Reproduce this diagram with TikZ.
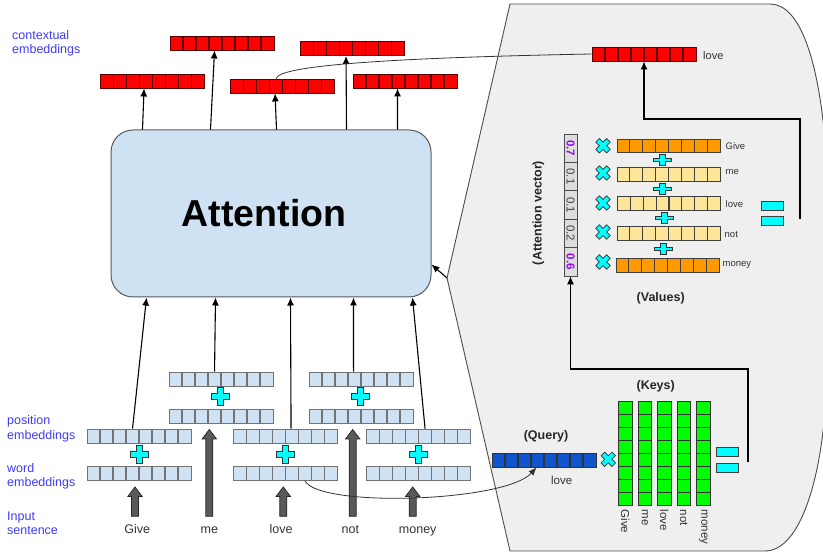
\documentclass[tikz,border=0pt]{standalone}
\usepackage{fontspec}
\setmainfont{Liberation Sans}
\usetikzlibrary{arrows.meta,calc}
\definecolor{embblue}{HTML}{CFE2F3}
\definecolor{labelblue}{HTML}{3C3CF5}
\definecolor{ctxred}{HTML}{FF0000}
\definecolor{qblue}{HTML}{1155CC}
\definecolor{kgreen}{HTML}{00FF00}
\definecolor{vdark}{HTML}{FF9900}
\definecolor{vlight}{HTML}{FFE599}
\definecolor{panelgray}{HTML}{EFEFEF}
\definecolor{avgray}{HTML}{DDDDDD}
\definecolor{avpurple}{HTML}{9900FF}
\definecolor{arrgray}{HTML}{595959}
\definecolor{markcyan}{HTML}{00FFFF}
\definecolor{wordgray}{HTML}{333333}
\definecolor{redline}{HTML}{5A0000}
\tikzset{
  hvec/.style 2 args={rectangle, inner sep=0pt, minimum width=104pt, minimum height=14pt,
    fill=#1, draw=#2, line width=0.9pt,
    path picture={\foreach \k in {1,...,7}{\draw[#2, line width=1.1pt]
      ($(path picture bounding box.south west)!\k/8!(path picture bounding box.south east)$) --
      ($(path picture bounding box.north west)!\k/8!(path picture bounding box.north east)$);}}},
  kcol/.style={rectangle, inner sep=0pt, minimum width=13.5pt, minimum height=103.5pt,
    fill=kgreen, draw=black!80, line width=0.9pt,
    path picture={\foreach \k in {1,...,7}{\draw[black!80, line width=1pt]
      ($(path picture bounding box.south west)!\k/8!(path picture bounding box.north west)$) --
      ($(path picture bounding box.south east)!\k/8!(path picture bounding box.north east)$);}}},
  avcell/.style={rectangle, inner sep=0pt, minimum width=13pt, minimum height=28.4pt,
    fill=avgray, draw=black!70, line width=0.8pt, font=\fontsize{11.5}{13}\selectfont, text=black!75},
  attbox/.style={rectangle, rounded corners=22pt, minimum width=320pt, minimum height=167pt,
    fill=embblue, draw=black!65, line width=1pt},
  bluelabel/.style={anchor=north west, inner sep=0pt, align=left, text=labelblue,
    font=\fontsize{12.5}{14.5}\selectfont},
  inword/.style={anchor=base, inner sep=0pt, text height=9pt, text=wordgray,
    font=\fontsize{12.5}{14}\selectfont},
  boldlab/.style={inner sep=0pt, font=\bfseries\fontsize{12.5}{14}\selectfont, text=black!85},
  smalllab/.style={anchor=west, inner sep=0pt, text=wordgray, font=\fontsize{9.5}{11}\selectfont},
  keylab/.style={rotate=-90, anchor=west, inner sep=0pt, text=wordgray, font=\fontsize{11.5}{13}\selectfont},
  eqbar/.style={rectangle, inner sep=0pt, minimum width=21.5pt, minimum height=8.5pt,
    fill=markcyan, draw=black!75, line width=0.7pt},
  arr/.style={-{Latex[length=8pt,width=7pt]}, line width=1.1pt, draw=black},
  thinline/.style={line width=0.8pt, draw=black!80},
  blockstyle/.style={fill=arrgray, draw=black!85, line width=0.7pt},
  plusmark/.pic={\filldraw[fill=markcyan, draw=black!80, line width=0.7pt]
    (-9,-3) -- (-3,-3) -- (-3,-9) -- (3,-9) -- (3,-3) -- (9,-3) -- (9,3) -- (3,3) -- (3,9)
    -- (-3,9) -- (-3,3) -- (-9,3) -- cycle;}
}
% block arrow: #1 word node, #2 embedding node, #3 x shift
\newcommand\blockarr[3]{%
  \filldraw[blockstyle] let \p1=(#1), \p2=(#2) in
    (\x1+#3pt-3.5pt,\y1+8pt) -- (\x1+#3pt-3.5pt,\y2-15.5pt) -- (\x1+#3pt-7.2pt,\y2-15.5pt)
    -- (\x1+#3pt,\y2-6pt) -- (\x1+#3pt+7.2pt,\y2-15.5pt) -- (\x1+#3pt+3.5pt,\y2-15.5pt)
    -- (\x1+#3pt+3.5pt,\y1+8pt) -- cycle;}
\begin{document}
\begin{tikzpicture}[x=1pt,y=-1pt]
\path[use as bounding box] (0,0) rectangle (823,553);
\clip (0,0) rectangle (823,553);

% ---------- zoom panel ----------
\coordinate (apex) at (447,278);
\draw[fill=panelgray, draw=black!70, line width=0.9pt]
  (apex) -- (510,4) -- (770,4) .. controls (800,4) and (818,60) .. (825,140)
  -- (825,410) .. controls (820,480) and (800,551) .. (765,551) -- (510,551) -- cycle;

% ---------- attention ----------
\node[attbox] (att) at (271,213.5) {};
\node[inner sep=0pt, font=\bfseries\fontsize{37.5}{40}\selectfont] (attText) at (264,213) {Attention};

% ---------- contextual embeddings ----------
\node[hvec={ctxred}{redline}] (ctxA) at (152.5,81) {};
\node[hvec={ctxred}{redline}] (ctxB) at (222,43) {};
\node[hvec={ctxred}{redline}] (ctxC) at (282.5,86) {};
\node[hvec={ctxred}{redline}] (ctxD) at (352.5,48.5) {};
\node[hvec={ctxred}{redline}] (ctxE) at (405,81) {};

\draw[arr] ($(att.north west)+(32,0)$) -- ($(ctxA.south west)+(44,0)$);
\draw[arr] ($(att.north west)+(100,0)$) -- ($(ctxB.south west)+(45,0)$);
\draw[arr] ($(att.north west)+(166,0)$) -- ($(ctxC.south west)+(45,0)$);
\draw[arr] ($(att.north west)+(236,0)$) -- ($(ctxD.south west)+(46,0)$);
\draw[arr] ($(att.north west)+(287,0)$) -- ($(ctxE.south west)+(45,0)$);

% ---------- left labels ----------
\node[bluelabel] (lblCtx) at (12,30) {contextual\\embeddings};
\node[bluelabel] (lblPos) at (7,415.5) {position\\embeddings};
\node[bluelabel] (lblWord) at (7,463) {word\\embeddings};
\node[bluelabel] (lblIn) at (7,511.5) {Input\\sentence};

% ---------- embeddings ----------
\node[hvec={embblue}{black!55}] (posGive) at (139,436) {};
\node[hvec={embblue}{black!55}] (wordGive) at (139,473.5) {};
\node[hvec={embblue}{black!55}] (upMe) at (221,379) {};
\node[hvec={embblue}{black!55}] (lowMe) at (221,416) {};
\node[hvec={embblue}{black!55}] (posLove) at (285.5,436) {};
\node[hvec={embblue}{black!55}] (wordLove) at (285.5,473.5) {};
\node[hvec={embblue}{black!55}] (upNot) at (361,379) {};
\node[hvec={embblue}{black!55}] (lowNot) at (361,416) {};
\node[hvec={embblue}{black!55}] (posMoney) at (418.5,436) {};
\node[hvec={embblue}{black!55}] (wordMoney) at (418.5,473.5) {};

\pic at (139,454) {plusmark};
\pic at (220.7,396.7) {plusmark};
\pic at (285.3,454) {plusmark};
\pic at (360.7,396.7) {plusmark};
\pic at (418.3,454) {plusmark};

\draw[arr] ($(posGive.north west)+(46,0)$) -- ($(att.south west)+(36,0)$);
\draw[arr] ($(upMe.north west)+(46,0)$) -- ($(att.south west)+(105,0)$);
\draw[arr] ($(posLove.north west)+(58,0)$) -- ($(att.south west)+(180,0)$);
\draw[arr] ($(upNot.north west)+(45,0)$) -- ($(att.south west)+(243,0)$);
\draw[arr] ($(posMoney.north west)+(59,0)$) -- ($(att.south west)+(302,0)$);

% ---------- input words ----------
\node[inword] (inGive) at (137.3,533.5) {Give};
\node[inword] (inMe) at (209.3,533.5) {me};
\node[inword] (inLove) at (281,533.5) {love};
\node[inword] (inNot) at (350.3,533.5) {not};
\node[inword] (inMoney) at (417.7,533.5) {money};

\blockarr{inGive.north}{wordGive.south}{-2.3}
\blockarr{inMe.north}{lowMe.south}{0}
\blockarr{inLove.north}{wordLove.south}{2.3}
\blockarr{inNot.north}{lowNot.south}{2.4}
\blockarr{inMoney.north}{wordMoney.south}{-5}

% ---------- zoom panel content ----------
\draw[arr] (apex) -- ($(att.south east)+(0,-33)$);

\node[hvec={ctxred}{redline}] (outLove) at (644,54) {};
\node[anchor=west, inner sep=0pt, text=wordgray, font=\fontsize{11}{13}\selectfont] (outLoveLab) at (703,56) {love};

% attention vector
\node[avcell] (av1) at (570.5,148.2) {\rotatebox{-90}{\textcolor{avpurple}{\bfseries 0.7}}};
\node[avcell] (av2) at (570.5,176.6) {\rotatebox{-90}{0.1}};
\node[avcell] (av3) at (570.5,205) {\rotatebox{-90}{0.1}};
\node[avcell] (av4) at (570.5,233.4) {\rotatebox{-90}{0.2}};
\node[avcell] (av5) at (570.5,261.8) {\rotatebox{-90}{\textcolor{avpurple}{\bfseries 0.6}}};
\node[boldlab, rotate=90] (avLab) at (538.3,213) {(Attention vector)};

% values
\node[hvec={vdark}{black!75}, minimum width=103pt, minimum height=13.5pt] (vGive) at (668.5,146) {};
\node[hvec={vlight}{black!75}, minimum width=103pt, minimum height=13.5pt] (vMe) at (668.5,174.5) {};
\node[hvec={vlight}{black!75}, minimum width=103pt, minimum height=13.5pt] (vLove) at (669,203.5) {};
\node[hvec={vlight}{black!75}, minimum width=103pt, minimum height=13.5pt] (vNot) at (668.5,233.5) {};
\node[hvec={vdark}{black!75}, minimum width=103pt, minimum height=13.5pt] (vMoney) at (667.5,265.5) {};
\node[smalllab] (vGiveLab) at (725.5,145.7) {Give};
\node[smalllab] (vMeLab) at (725.5,172.3) {me};
\node[smalllab] (vLoveLab) at (725.5,204) {love};
\node[smalllab] (vNotLab) at (724.5,234) {not};
\node[smalllab] (vMoneyLab) at (722.5,265) {money};

\pic[rotate=45, scale=0.85] at (603,145.7) {plusmark};
\pic[rotate=45, scale=0.85] at (603,173) {plusmark};
\pic[rotate=45, scale=0.85] at (603,203) {plusmark};
\pic[rotate=45, scale=0.85] at (603,232) {plusmark};
\pic[rotate=45, scale=0.85] at (603,262) {plusmark};

\pic[yscale=0.6] at (662.7,160) {plusmark};
\pic[yscale=0.6] at (662.5,189) {plusmark};
\pic[yscale=0.6] at (664,218) {plusmark};
\pic[yscale=0.6] at (663,249) {plusmark};

\node[boldlab] (valLab) at (660.7,298) {(Values)};

\node[eqbar] (eqV1) at (772.5,206) {};
\node[eqbar] (eqV2) at (772.5,221) {};

\coordinate (vOut) at (800,219);
\draw[arr] (vOut) -- ++(0,-100) -| (outLove.south);

% query & keys
\node[boldlab] (qLab) at (546,436) {(Query)};
\node[hvec={qblue}{black!80}] (query) at (544,460) {};
\node[anchor=base, inner sep=0pt, text=wordgray, font=\fontsize{11.5}{13}\selectfont] (qWord) at (561.7,485) {love};
\pic[rotate=45, scale=0.85] at (608.3,459.3) {plusmark};

\node[boldlab] (kLab) at (655.7,386.7) {(Keys)};
\foreach \n/\x in {Give/625.3, me/644.8, love/664.3, not/683.8, money/703.3}{
  \node[kcol] (key\n) at (\x,453.3) {};
  \node[keylab] (keyLab\n) at ($(key\n.south)+(0,4)$) {\n};
}
\node[eqbar, minimum width=22pt, minimum height=9pt] (eqK1) at (727,452.2) {};
\node[eqbar, minimum width=22pt, minimum height=9pt] (eqK2) at (727,467.5) {};

\coordinate (kOut) at (748,462);
\draw[arr] (kOut) -- ++(0,-93) -| (av5.south);

% ---------- long connectors ----------
\draw[thinline] ($(ctxC.north west)+(46,0)$) .. controls (279,66) and (380,58) .. (outLove.west);
\draw[-{Latex[length=8pt,width=6.5pt]}, thinline]
  ($(wordLove.south east)+(-33,0)$) .. controls (320,508) and (505,502) .. ($(query.south west)+(45,0)$);
\end{tikzpicture}
\end{document}
